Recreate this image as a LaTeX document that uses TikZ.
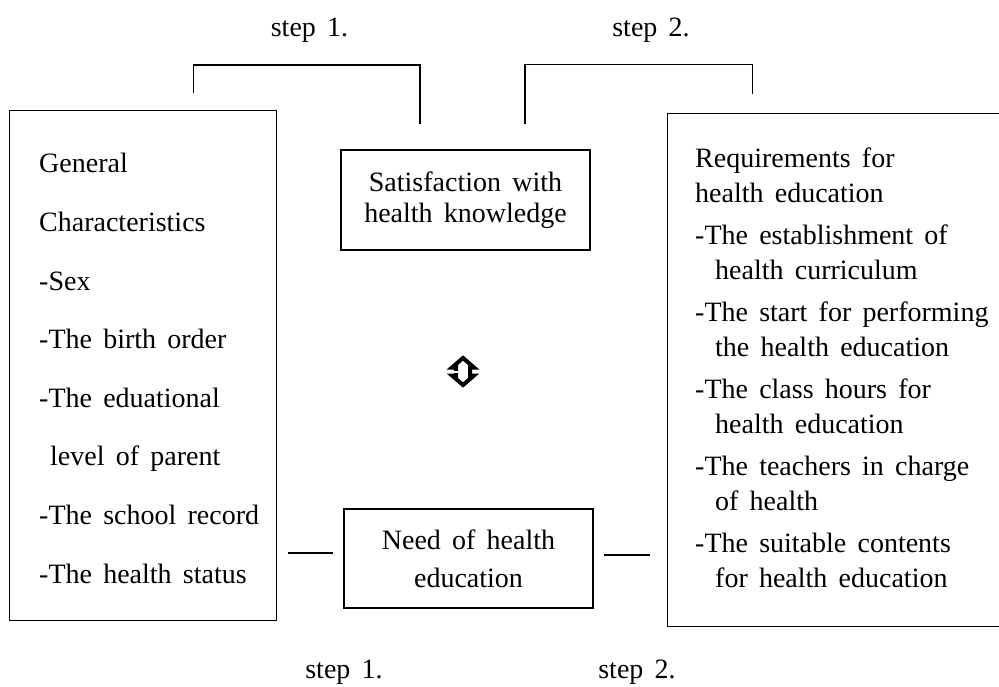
\documentclass[tikz,border=0pt]{standalone}
\usepackage{fontspec}
\setmainfont{Liberation Serif}[WordSpace=1.6]
\usetikzlibrary{positioning}

\begin{document}
\begin{tikzpicture}[
  x=1pt, y=-1pt,
  every node/.style={font=\fontsize{28}{35}\selectfont, inner sep=0pt},
  box/.style={draw, line width=1.3pt},
  link/.style={line width=1.3pt},
]
\clip (0,0) rectangle (999,686);
% boxes
\node[box, minimum width=267pt, minimum height=510pt, anchor=north west] (lbox) at (9,110) {};
\node[box, minimum width=345pt, minimum height=513pt, anchor=north west] (rbox) at (667,113) {};
\node[box, minimum width=249pt, minimum height=100pt, align=center, font=\fontsize{28}{31}\selectfont] (sat) at (465.5,200) {Satisfaction with\\health knowledge};
\node[box, minimum width=249pt, minimum height=99pt, align=center, font=\fontsize{28}{38}\selectfont] (need) at (468.5,558.5) {Need of health\\education};
% box texts (base = last line)
\node[anchor=base west, align=left, font=\fontsize{28}{58.6}\selectfont] (gen) at (39,583)
  {General\\Characteristics\\-Sex\\-The birth order\\-The eduational\\\hspace*{11pt}level of parent\\-The school record\\-The health status};
\node[anchor=base west, align=left] (req) at (695,587)
  {Requirements for\\health education\\[7pt]
   -The establishment of\\\hspace*{20pt}health curriculum\\[7pt]
   -The start for performing\\\hspace*{20pt}the health education\\[7pt]
   -The class hours for\\\hspace*{20pt}health education\\[7pt]
   -The teachers in charge\\\hspace*{20pt}of health\\[7pt]
   -The suitable contents\\\hspace*{20pt}for health education};
% step labels
\node[anchor=base] (s1a) at (309.5,36) {step 1.};
\node[anchor=base] (s2a) at (651,36) {step 2.};
\node[anchor=base] (s1b) at (344,678) {step 1.};
\node[anchor=base] (s2b) at (637,678) {step 2.};
% brackets
\draw[link] ([xshift=50.5pt,yshift=17pt]lbox.north) -- ++(0,-28) -| ([xshift=-45.5pt,yshift=25pt]sat.north);
\draw[link] ([xshift=59.5pt,yshift=25pt]sat.north) -- ++(0,-60) -| ([xshift=-87.5pt,yshift=19pt]rbox.north);
% dashes
\coordinate (ldash) at ([yshift=5.5pt]need.west);
\coordinate (rdash) at ([yshift=3.5pt]need.east);
\draw[link, shorten <=10pt, shorten >=11pt] (ldash) -- (lbox.east |- ldash);
\draw[link, shorten <=10pt, shorten >=17pt] (rdash) -- (rbox.west |- rdash);
% up-down mark
\begin{scope}[shift={(463,371)}]
\draw[line width=4pt, line join=miter] (0,-13) -- (11,-3.5) -- (7,-3.5) -- (7,4.5) -- (11,4.5) -- (0,14) -- (-11,4.5) -- (-7,4.5) -- (-7,-3.5) -- (-11,-3.5) -- cycle;
\draw[white, line width=2pt] (-14,0.5) -- (-5,0.5);
\end{scope}
\end{tikzpicture}
\end{document}
